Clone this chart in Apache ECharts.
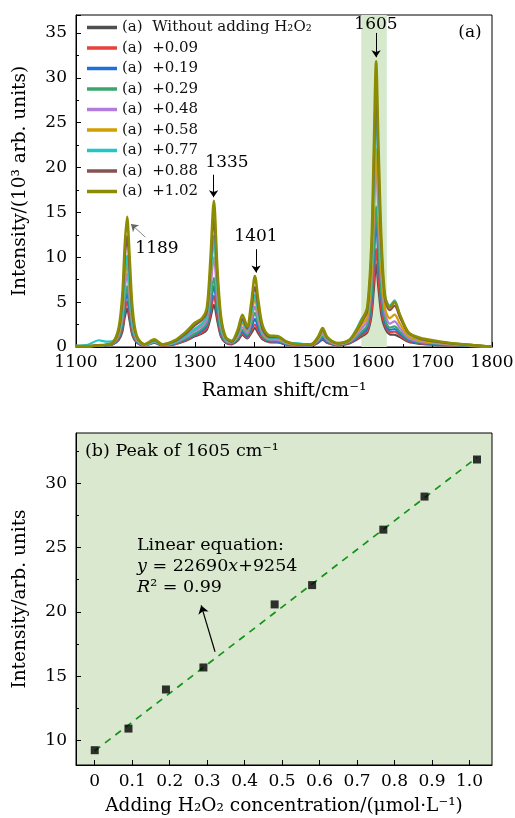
<!DOCTYPE html>
<html>
<head>
<meta charset="utf-8">
<script src="https://cdn.jsdelivr.net/npm/echarts@6/dist/echarts.min.js"></script>
<style>
    html, body { margin: 0; padding: 0; background: #fff; }
    #chart_main { width: 515px; height: 818px; }
</style>
</head>
<body>
<div id="chart_main"></div>
<script>
// (a) Raman spectra, intensity in 10^3 arb. units
var wavenumber = [1100, 1120, 1138, 1150, 1162, 1172, 1178, 1182, 1186, 1190, 1195, 1202, 1215, 1232, 1245, 1265, 1285, 1300, 1312, 1320,
    1326, 1332, 1338, 1344, 1352, 1362, 1372, 1380, 1388, 1395, 1401, 1407, 1414, 1425, 1440, 1455, 1475, 1495, 1507, 1515,
    1523, 1540, 1560, 1572, 1581, 1590, 1597, 1601, 1605, 1609, 1614, 1620, 1628, 1636, 1645, 1660, 1680, 1700, 1730, 1770, 1800];

var int000 = [.1, .1, .15, .2, .3, .8, 1.7, 3.3, 4.3, 3.0, 1.3, .5, .15, .45, .15, .3, .7, 1.2, 1.5, 1.9,
    3.15, 4.7, 2.85, 1.15, .45, .3, .7, 1.35, .95, 1.55, 2.1, 1.5, .85, .55, .5, .25, .15, .15, .45, .8,
    .45, .2, .4, .8, 1.2, 1.6, 3.4, 6.3, 9.25, 6.5, 3.5, 2.1, 1.4, 1.36, 1.1, .55, .35, .25, .2, .1, .05];
var int009 = [.1, .1, .15, .2, .3, .9, 2.05, 3.9, 5.1, 3.6, 1.5, .55, .15, .5, .15, .3, .75, 1.3, 1.6, 2.1,
    3.65, 5.7, 3.35, 1.3, .5, .35, .8, 1.5, 1.05, 1.8, 2.5, 1.75, .95, .6, .55, .3, .15, .15, .5, .9,
    .5, .2, .45, .9, 1.35, 1.8, 3.9, 7.4, 10.93, 7.65, 4.1, 2.4, 1.65, 1.7, 1.3, .65, .4, .3, .2, .1, .05];
var int019 = [.1, .1, .15, .2, .3, 1.0, 2.45, 4.6, 6.0, 4.25, 1.8, .6, .2, .5, .2, .35, .85, 1.4, 1.8, 2.4,
    4.3, 6.8, 3.9, 1.55, .55, .4, .9, 1.7, 1.2, 2.15, 3.1, 2.1, 1.1, .65, .6, .3, .2, .15, .55, 1.0,
    .55, .25, .5, 1.0, 1.5, 2.1, 5.0, 9.5, 13.97, 9.8, 5.25, 2.8, 1.9, 2.0, 1.5, .75, .45, .35, .25, .1, .05];
var int029 = [.1, .1, .15, .2, .35, 1.15, 2.75, 5.25, 6.8, 4.8, 2.0, .7, .2, .55, .2, .4, .95, 1.5, 2.0, 2.6,
    4.85, 7.7, 4.35, 1.75, .6, .45, 1.0, 1.9, 1.35, 2.6, 3.8, 2.55, 1.25, .75, .7, .35, .2, .2, .65, 1.2,
    .65, .25, .55, 1.1, 1.7, 2.4, 5.6, 10.7, 15.68, 11.0, 5.8, 3.1, 2.15, 2.3, 1.7, .85, .5, .4, .25, .1, .05];
var int048 = [.1, .1, .2, .25, .4, 1.4, 3.3, 6.35, 8.2, 5.8, 2.45, .8, .2, .6, .25, .45, 1.1, 1.8, 2.3, 3.0,
    6.1, 10.0, 5.5, 2.2, .75, .5, 1.15, 2.2, 1.55, 3.0, 4.5, 3.0, 1.45, .85, .8, .4, .2, .2, .75, 1.4,
    .75, .3, .6, 1.35, 2.1, 2.9, 7.3, 14.0, 20.58, 14.4, 7.7, 3.8, 2.6, 2.85, 2.1, 1.0, .6, .45, .3, .15, .05];
var int058 = [.1, .1, .2, .25, .4, 1.5, 3.8, 7.3, 9.4, 6.65, 2.8, .9, .25, .65, .25, .5, 1.3, 2.0, 2.6, 3.4,
    7.1, 11.8, 6.4, 2.5, .85, .55, 1.3, 2.6, 1.8, 3.5, 5.3, 3.5, 1.7, .95, .9, .45, .25, .2, .85, 1.6,
    .85, .35, .7, 1.6, 2.5, 3.3, 7.9, 15.0, 22.08, 15.5, 8.3, 4.3, 3.2, 3.6, 2.6, 1.2, .7, .5, .35, .15, .05];
var int077 = [.15, .25, .75, .6, .65, 1.8, 4.1, 7.9, 10.2, 7.2, 3.05, 1.0, .25, .65, .25, .5, 1.3, 2.0, 2.6, 3.5,
    7.4, 12.4, 6.7, 2.6, .9, .6, 1.4, 2.8, 1.9, 3.8, 5.8, 3.8, 1.8, 1.0, 1.0, .5, .4, .25, .95, 1.8,
    .95, .4, .8, 2.0, 3.2, 4.0, 9.4, 17.9, 26.39, 18.5, 10.0, 5.6, 4.6, 5.2, 3.6, 1.5, .9, .65, .4, .2, .05];
var int088 = [.1, .1, .2, .25, .45, 1.9, 5.0, 9.6, 12.4, 8.75, 3.7, 1.15, .3, .75, .3, .6, 1.5, 2.4, 3.0, 3.9,
    8.45, 14.3, 7.65, 3.05, 1.0, .6, 1.6, 3.1, 2.05, 4.3, 6.7, 4.35, 2.0, 1.1, 1.1, .55, .25, .25, 1.0, 1.9,
    1.0, .4, .75, 1.8, 2.8, 4.0, 10.3, 19.7, 28.96, 20.3, 10.85, 5.3, 4.1, 4.6, 3.3, 1.5, .9, .65, .4, .2, .05];
var int102 = [.1, .1, .2, .25, .5, 2.2, 5.8, 11.3, 14.5, 10.3, 4.4, 1.3, .3, .85, .3, .7, 1.7, 2.7, 3.2, 4.3,
    9.55, 16.3, 8.65, 3.4, 1.1, .7, 1.9, 3.6, 2.3, 5.0, 7.9, 5.1, 2.4, 1.3, 1.2, .6, .3, .3, 1.1, 2.1,
    1.1, .45, .8, 1.9, 3.0, 4.4, 11.3, 21.7, 31.84, 22.3, 11.9, 5.7, 4.4, 5.0, 3.6, 1.6, 1.0, .75, .45, .2, .05];

var seriesNames = ['(a)  Without adding H₂O₂', '(a)  +0.09', '(a)  +0.19', '(a)  +0.29', '(a)  +0.48',
    '(a)  +0.58', '(a)  +0.77', '(a)  +0.88', '(a)  +1.02'];
var seriesColors = ['#4f4f4f', '#e8413c', '#1f6fd8', '#3aa66c', '#b27ddc', '#d29e00', '#1fc6c6', '#875252', '#8c8c00'];

// (b) peak of 1605 cm-1 vs concentration
var concentration = [0, 0.09, 0.19, 0.29, 0.48, 0.58, 0.77, 0.88, 1.02];
var peak1605 = [9.25, 10.93, 13.97, 15.68, 20.58, 22.08, 26.39, 28.96, 31.84];
var fitX = [0, 1.02];
var fitY = [9.2, 32.0];
var xTicksB = [0, 0.1, 0.2, 0.3, 0.4, 0.5, 0.6, 0.7, 0.8, 0.9, 1.0];
var yTicksB = [10, 15, 20, 25, 30];
var yMinorB = [12.5, 17.5, 22.5, 27.5, 32.5];

$font = '"DejaVu Serif"';

var myChart = echarts.init(document.getElementById('chart_main'));
var spectra = [int000, int009, int019, int029, int048, int058, int077, int088, int102];

var series = spectra.map(function (vals, i) {
    return {
        name: seriesNames[i],
        type: 'line',
        xAxisIndex: 0,
        yAxisIndex: 0,
        data: wavenumber.map(function (w, j) { return [w, vals[j]]; }),
        showSymbol: false,
        smooth: 0.3,
        lineStyle: { width: i == 8 ? 2.6 : 2.2, color: seriesColors[i] },
        itemStyle: { color: seriesColors[i] },
        z: 3
    };
});

// green band round 1605
series[0].markArea = {
    silent: true,
    itemStyle: { color: '#d7e9cd' },
    data: [[{ coord: [1580, 0] }, { coord: [1623, 37] }]]
};

// peak arrows
series[8].markLine = {
    silent: true,
    symbol: ['none', 'arrow'],
    symbolSize: 7,
    label: { show: false },
    lineStyle: { color: '#000', width: 1, type: 'solid' },
    data: [
        [{ coord: [1605, 35.0] }, { coord: [1605, 32.3] }],
        [{ coord: [1331.5, 19.2] }, { coord: [1331.5, 16.7] }],
        [{ coord: [1403, 10.9] }, { coord: [1403, 8.3] }],
        [{ coord: [1216.6, 12.25], lineStyle: { color: '#666', width: 0.8 } }, { coord: [1192.5, 13.7] }]
    ]
};

series.push({
    type: 'line',
    xAxisIndex: 1,
    yAxisIndex: 1,
    data: fitX.map(function (x, i) { return [x, fitY[i]]; }),
    showSymbol: false,
    lineStyle: { color: '#15941a', width: 1.7, type: [7, 6] },
    z: 3,
    markLine: {
        silent: true,
        symbol: ['none', 'arrow'],
        symbolSize: 8,
        label: { show: false },
        lineStyle: { color: '#000', width: 1.2, type: 'solid' },
        data: [[{ coord: [0.321, 16.9] }, { coord: [0.284, 20.5] }]]
    }
});
series.push({
    type: 'scatter',
    xAxisIndex: 1,
    yAxisIndex: 1,
    symbol: 'rect',
    symbolSize: 8,
    itemStyle: { color: '#000' },
    data: concentration.map(function (x, i) { return [x, peak1605[i]]; }),
    z: 4
});

var tickLabel = { color: '#000', fontFamily: $font, fontSize: 17 };
var axisName = { color: '#000', fontFamily: $font, fontSize: 18.5 };

function txt(x, y, s, size, extra) {
    return Object.assign({
        type: 'text', x: x, y: y, z: 100,
        style: { text: s, fontFamily: $font, fontSize: size, fill: '#000', align: 'center', verticalAlign: 'middle' }
    }, extra || {});
}

option = {
    animation: false,
    textStyle: { fontFamily: $font, color: '#000' },
    grid: [
        { left: 76, top: 15, width: 416, height: 332, show: true, borderColor: '#000', borderWidth: 1, outerBoundsMode: 'none' },
        { left: 76, top: 433, width: 416, height: 332, show: true, borderColor: '#000', borderWidth: 1,
            backgroundColor: '#d9e8cf', outerBoundsMode: 'none' }
    ],
    legend: {
        data: seriesNames,
        orient: 'vertical',
        left: 82,
        top: 15,
        icon: 'rect',
        itemWidth: 30,
        itemHeight: 3.5,
        itemGap: 5.5,
        textStyle: { fontFamily: $font, fontSize: 15, color: '#111', lineHeight: 15 }
    },
    xAxis: [
        {
            gridIndex: 0, type: 'value', min: 1100, max: 1800, interval: 100,
            name: 'Raman shift/cm⁻¹', nameLocation: 'middle', nameGap: 35, nameTextStyle: axisName,
            axisLine: { onZero: false, lineStyle: { color: '#000' } },
            axisTick: { inside: true, length: 5, lineStyle: { color: '#000' } },
            minorTick: { show: true, splitNumber: 2, length: 3, lineStyle: { color: '#000' } },
            axisLabel: Object.assign({ margin: 7, formatter: function (v) { return String(v); } }, tickLabel),
            splitLine: { show: false }
        },
        {
            gridIndex: 1, type: 'value', min: -0.05, max: 1.06,
            name: 'Adding H₂O₂ concentration/(μmol·L⁻¹)', nameLocation: 'middle', nameGap: 32, nameTextStyle: axisName,
            axisLine: { onZero: false, lineStyle: { color: '#000' } },
            axisTick: { inside: true, length: 5, customValues: xTicksB, lineStyle: { color: '#000' } },
            axisLabel: Object.assign({
                margin: 8, customValues: xTicksB,
                formatter: function (v) { return v === 0 ? '0' : v.toFixed(1); }
            }, tickLabel),
            splitLine: { show: false }
        }
    ],
    yAxis: [
        {
            gridIndex: 0, type: 'value', min: 0, max: 37, interval: 5,
            name: 'Intensity/(10³ arb. units)', nameLocation: 'middle', nameGap: 46, nameTextStyle: axisName,
            axisLine: { show: true, onZero: false, lineStyle: { color: '#000' } },
            axisTick: { show: true, inside: true, length: 5, lineStyle: { color: '#000' } },
            minorTick: { show: true, splitNumber: 2, length: 3, lineStyle: { color: '#000' } },
            axisLabel: Object.assign({ margin: 9, showMaxLabel: false }, tickLabel),
            splitLine: { show: false }
        },
        {
            gridIndex: 1, type: 'value', min: 8.1, max: 33.9,
            name: 'Intensity/arb. units', nameLocation: 'middle', nameGap: 46, nameTextStyle: axisName,
            axisLine: { show: true, onZero: false, lineStyle: { color: '#000' } },
            axisTick: { show: true, inside: true, length: 5, customValues: yTicksB, lineStyle: { color: '#000' } },
            axisLabel: Object.assign({ margin: 9, customValues: yTicksB }, tickLabel),
            splitLine: { show: false }
        },
        {
            gridIndex: 1, type: 'value', min: 8.1, max: 33.9, position: 'left',
            axisLine: { show: false, onZero: false },
            axisTick: { show: true, inside: true, length: 3, customValues: yMinorB, lineStyle: { color: '#000' } },
            axisLabel: { show: false },
            splitLine: { show: false }
        }
    ],
    graphic: [
        txt(470, 33, '(a)', 17),
        txt(376, 25, '1605', 17),
        txt(227, 163, '1335', 17),
        txt(256, 237, '1401', 17),
        txt(157, 249, '1189', 17),
        {
            type: 'text', x: 85, y: 451, z: 100,
            style: { text: '(b) Peak of 1605 cm⁻¹', fontFamily: $font, fontSize: 17.5, fill: '#000', verticalAlign: 'middle' }
        },
        {
            type: 'text', x: 137, y: 535, z: 100,
            style: {
                text: 'Linear equation:\n{i|y} = 22690{i|x}+9254\n{i|R}² = 0.99',
                fontFamily: $font, fontSize: 17.5, lineHeight: 21, fill: '#000',
                rich: { i: { fontFamily: $font, fontSize: 17.5, fontStyle: 'italic', lineHeight: 21, fill: '#000' } }
            }
        }
    ],
    series: series
};

myChart.setOption(option);
</script>
</body>
</html>
